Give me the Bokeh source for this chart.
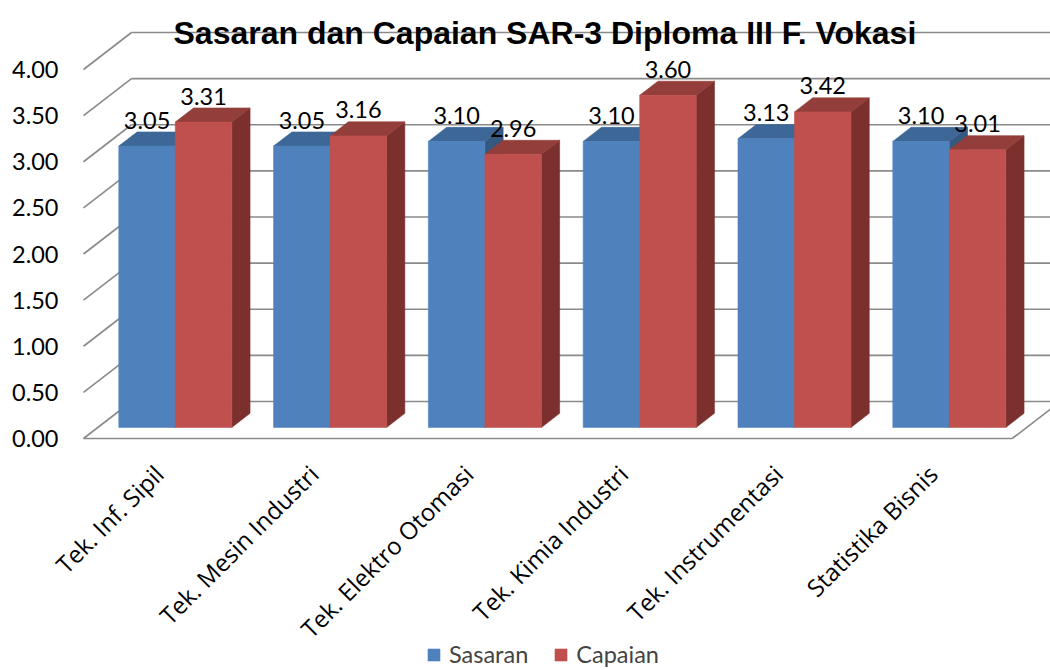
import math
from bokeh.plotting import figure
from bokeh.models import ColumnDataSource, Label, Legend, LegendItem, Range1d
from bokeh.core.properties import value
from bokeh.embed import file_html
from bokeh.resources import INLINE

# ---------------- data ----------------
categories = ["Tek. Inf. Sipil", "Tek. Mesin Industri", "Tek. Elektro Otomasi",
              "Tek. Kimia Industri", "Tek. Instrumentasi", "Statistika Bisnis"]
sasaran = [3.05, 3.05, 3.10, 3.10, 3.13, 3.10]
capaian = [3.31, 3.16, 2.96, 3.60, 3.42, 3.01]
series_names = ["Sasaran", "Capaian"]
y_ticks = [0.0, 0.5, 1.0, 1.5, 2.0, 2.5, 3.0, 3.5, 4.0]
y_tick_labels = ["0.00", "0.50", "1.00", "1.50", "2.00", "2.50", "3.00", "3.50", "4.00"]
title_text = "Sasaran dan Capaian SAR-3 Diploma III F. Vokasi"

# ---------------- style / geometry ----------------
W, H = 1050, 670
LEFT = 83                 # px from canvas left to the front-left corner of the floor
FLOOR_FROM_TOP = 438      # px from figure top to front floor edge
PX_X = 154.8              # px per category
PX_Y = 92.25              # px per value unit
DEPTH_X = 48 / PX_X       # full depth offset (data units)
DEPTH_Y = 37 / PX_Y
D0, D1 = 0.30, 0.68       # bar front / back depth fractions
BAR_W = 0.365
GRID_COLOR = "#8a8a8a"
FRONT = ["#4F81BD", "#C0504D"]
TOP = ["#3D6797", "#933E3B"]
SIDE = ["#34587F", "#7B302E"]
LABEL_FONT = "Lato"
LABEL_SIZE = "23.5px"

n = len(categories)
x_start = -LEFT / PX_X
x_end = (W - LEFT) / PX_X
y_start = -(H - FLOOR_FROM_TOP) / PX_Y
y_end = FLOOR_FROM_TOP / PX_Y

p = figure(width=W, height=H, output_backend="svg", toolbar_location=None,
           x_range=Range1d(x_start, x_end), y_range=Range1d(y_start, y_end),
           x_axis_location=None, y_axis_location=None,
           min_border_left=0, min_border_right=0, min_border_top=0, min_border_bottom=0,
           outline_line_color=None)
p.xgrid.visible = False
p.ygrid.visible = False

# ---------------- walls & floor ----------------
back_x0 = [DEPTH_X] * len(y_ticks)
back_x1 = [n + DEPTH_X] * len(y_ticks)
back_y = [t + DEPTH_Y for t in y_ticks]
p.segment(x0=back_x0, y0=back_y, x1=back_x1, y1=back_y, line_color=GRID_COLOR, line_width=1.6)
p.segment(x0=[0] * len(y_ticks), y0=y_ticks, x1=back_x0, y1=back_y,
          line_color=GRID_COLOR, line_width=1.6)
p.segment(x0=[0, n], y0=[0, 0], x1=[n, n + DEPTH_X], y1=[0, DEPTH_Y],
          line_color=GRID_COLOR, line_width=1.6)

# ---------------- value-axis tick labels ----------------
tick_src = ColumnDataSource(dict(x=[0] * len(y_ticks), y=y_ticks, t=y_tick_labels))
p.text(x="x", y="y", text="t", source=tick_src, x_offset=-25,
       text_align="right", text_baseline="middle",
       text_font=value(LABEL_FONT), text_font_size=LABEL_SIZE, text_color="black")

# ---------------- 3D bars ----------------
front_renderers = []
for s, vals in enumerate([sasaran, capaian]):
    lefts = [i + 0.5 - BAR_W + s * BAR_W for i in range(n)]
    rights = [l + BAR_W for l in lefts]
    side_xs, side_ys, top_xs, top_ys = [], [], [], []
    for l, r, v in zip(lefts, rights, vals):
        side_xs.append([r + D0 * DEPTH_X, r + D1 * DEPTH_X, r + D1 * DEPTH_X, r + D0 * DEPTH_X])
        side_ys.append([D0 * DEPTH_Y, D1 * DEPTH_Y, v + D1 * DEPTH_Y, v + D0 * DEPTH_Y])
        top_xs.append([l + D0 * DEPTH_X, r + D0 * DEPTH_X, r + D1 * DEPTH_X, l + D1 * DEPTH_X])
        top_ys.append([v + D0 * DEPTH_Y, v + D0 * DEPTH_Y, v + D1 * DEPTH_Y, v + D1 * DEPTH_Y])
    p.patches(xs=side_xs, ys=side_ys, fill_color=SIDE[s], line_color=SIDE[s], line_width=0.6)
    p.patches(xs=top_xs, ys=top_ys, fill_color=TOP[s], line_color=TOP[s], line_width=0.6)
    src = ColumnDataSource(dict(
        left=[l + D0 * DEPTH_X for l in lefts],
        right=[r + D0 * DEPTH_X for r in rights],
        bottom=[D0 * DEPTH_Y] * n,
        top=[v + D0 * DEPTH_Y for v in vals],
        cx=[(l + r) / 2 + D0 * DEPTH_X for l, r in zip(lefts, rights)],
        lab=[f"{v:.2f}" for v in vals],
    ))
    fr = p.quad(left="left", right="right", bottom="bottom", top="top", source=src,
                fill_color=FRONT[s], line_color=FRONT[s], line_width=0.6)
    front_renderers.append(fr)
    p.text(x="cx", y="top", text="lab", source=src, y_offset=-26,
           text_align="center", text_baseline="middle",
           text_font=value(LABEL_FONT), text_font_size=LABEL_SIZE, text_color="black")

# ---------------- category labels ----------------
cat_src = ColumnDataSource(dict(x=[i + 0.5 for i in range(n)], y=[0] * n, t=categories))
p.text(x="x", y="y", text="t", source=cat_src, angle=math.pi / 4,
       x_offset=-2, y_offset=31, text_align="right", text_baseline="middle",
       text_font=value("Open Sans"), text_font_size="24px", text_color="black")

# ---------------- title ----------------
p.add_layout(Label(x=n / 2, y=4 + DEPTH_Y, text=title_text, x_offset=-3,
                   text_align="center", text_baseline="alphabetic",
                   text_font="Liberation Sans", text_font_style="bold",
                   text_font_size="32px", text_color="black"))

# ---------------- legend ----------------
legend = Legend(items=[LegendItem(label=series_names[i], renderers=[front_renderers[i]]) for i in range(2)],
                orientation="horizontal", location=(426, 2), padding=0, margin=0,
                spacing=25, label_standoff=8, glyph_width=15, glyph_height=15,
                label_height=24, label_text_font=LABEL_FONT, label_text_font_size=LABEL_SIZE,
                border_line_color=None, background_fill_alpha=0)
p.add_layout(legend)

open("out.html", "w").write(file_html(p, INLINE))
